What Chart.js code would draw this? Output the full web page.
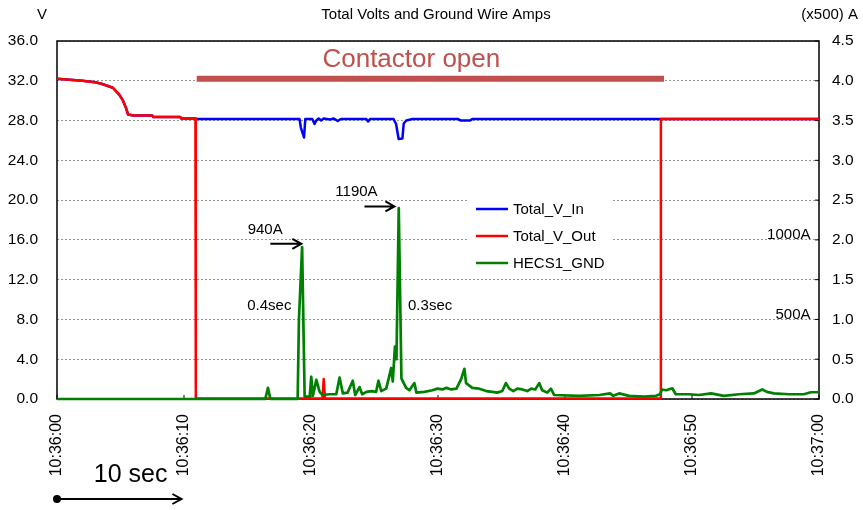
<!DOCTYPE html>
<html>
<head>
<meta charset="utf-8">
<title>Total Volts and Ground Wire Amps</title>
<script src="https://cdn.jsdelivr.net/npm/chart.js@4.4.0/dist/chart.umd.min.js"></script>
<style>
  body { margin: 0; background: #fff; }
  #wrap { width: 863px; height: 510px; position: relative; }
</style>
</head>
<body>
<div id="wrap"><canvas id="myChart"></canvas></div>
<script>
// temps en secondes depuis 10:36:00
const tickLabels = ['10:36:00', '10:36:10', '10:36:20', '10:36:30', '10:36:40', '10:36:50', '10:37:00'];

// Total_V_In (V)
const tVin = [0, 1, 2, 3, 3.5, 4.4, 4.9, 5.2, 5.45, 5.6, 6.0, 7.5, 7.6, 9.7, 9.8, 10.9, 11.0,
  19.1, 19.2, 19.45, 19.55, 20.1, 20.28, 20.42, 20.6, 20.8, 21.0, 21.5, 21.8, 22.1, 22.35,
  24.35, 24.5, 24.65, 26.5, 26.7, 26.9, 27.2, 27.3, 27.5, 28.0, 31.6, 31.8, 32.5, 32.7, 60];
const vIn = [32.2, 32.1, 32.0, 31.85, 31.7, 31.3, 30.6, 30.0, 29.2, 28.6, 28.5, 28.5, 28.35, 28.35, 28.2, 28.2, 28.15,
  28.15, 27.3, 26.3, 28.15, 28.15, 27.65, 28.0, 28.2, 28.0, 28.2, 28.1, 28.2, 27.95, 28.15,
  28.15, 27.9, 28.15, 28.15, 27.65, 26.15, 26.2, 27.7, 28.0, 28.15, 28.15, 28.0, 28.0, 28.15, 28.15];

// Total_V_Out (V)
const tVout = [0, 1, 2, 3, 3.5, 4.4, 4.9, 5.2, 5.45, 5.6, 6.0, 7.5, 7.6, 9.7, 9.8, 10.9, 10.93,
  20.9, 21.0, 21.1, 47.5, 47.55, 60];
const vOut = [32.2, 32.1, 32.0, 31.85, 31.7, 31.3, 30.6, 30.0, 29.2, 28.6, 28.5, 28.5, 28.35, 28.35, 28.2, 28.2, 0.04,
  0.04, 2.0, 0.04, 0.04, 28.15, 28.15];

// HECS1_GND (x500 A)
const tGnd = [0, 16.4, 16.61, 16.8, 18.95, 19.05, 19.3, 19.5, 19.9, 20.02, 20.15, 20.42, 20.68, 20.91,
  21.46, 21.99, 22.25, 22.51, 22.88, 23.29, 23.48, 23.82, 24.03, 24.37, 24.76, 25.13, 25.31, 25.53,
  25.92, 26.18, 26.31, 26.44, 26.61, 26.73, 26.91, 27.12, 27.49, 27.75, 28.14, 28.3, 28.93, 29.56,
  29.95, 30.35, 30.66, 31.05, 31.45, 31.82, 32.08, 32.21, 32.7, 33.25, 33.8, 34.28, 34.67, 35.06,
  35.35, 35.61, 35.93, 36.24, 36.64, 37.03, 37.34, 37.66, 37.97, 38.2, 38.6, 38.89, 39.15, 41.12,
  42.7, 43.55, 43.8, 44.26, 45.05, 46.23, 47.17, 47.48, 47.64, 47.96, 48.45, 48.72, 49.76, 50.55,
  51.5, 52.5, 53.7, 54.87, 55.53, 55.9, 56.45, 57.63, 58.8, 59.36, 60];
const aGnd = [0, 0, 0.14, 0, 0, 1.0, 1.91, 0.03, 0.03, 0.28, 0.04, 0.24, 0.09, 0.05,
  0.06, 0.06, 0.27, 0.07, 0.08, 0.23, 0.05, 0.15, 0.06, 0.09, 0.1, 0.09, 0.23, 0.1,
  0.13, 0.3, 0.39, 0.22, 0.66, 0.5, 2.40, 0.26, 0.14, 0.11, 0.2, 0.08, 0.09, 0.11,
  0.13, 0.12, 0.14, 0.12, 0.13, 0.25, 0.38, 0.2, 0.14, 0.13, 0.1, 0.09, 0.08, 0.1,
  0.2, 0.13, 0.1, 0.13, 0.12, 0.1, 0.13, 0.12, 0.2, 0.11, 0.08, 0.13, 0.05, 0.04,
  0.05, 0.07, 0.04, 0.07, 0.04, 0.03, 0.04, 0.06, 0.12, 0.11, 0.135, 0.06, 0.06, 0.05,
  0.07, 0.04, 0.06, 0.07, 0.12, 0.09, 0.07, 0.06, 0.06, 0.085, 0.085];

// barre "Contactor open"
const tContactor = [11.0, 47.8];
const vContactor = [32.2, 32.2];

const FONT = "'Liberation Sans', Arial, sans-serif";
const toXY = (xs, ys) => xs.map((x, i) => ({ x: x, y: ys[i] }));

const arrow = (ctx, x1, y1, x2, y2) => {
  ctx.beginPath();
  ctx.moveTo(x1, y1);
  ctx.lineTo(x2, y2);
  ctx.moveTo(x2 - 9, y2 - 5);
  ctx.lineTo(x2, y2);
  ctx.lineTo(x2 - 9, y2 + 5);
  ctx.stroke();
};

// cadre + légende dans la zone du graphe
const framePlugin = {
  id: 'frame',
  beforeDatasetsDraw(chart) {
    const { ctx, chartArea: a, scales } = chart;
    ctx.save();
    // légende (fond blanc)
    ctx.fillStyle = '#fff';
    ctx.fillRect(469, 192, 143, 84);
    const items = [['Total_V_In', '#0000ff'], ['Total_V_Out', '#ff0000'], ['HECS1_GND', '#008000']];
    ctx.font = '15px ' + FONT;
    ctx.textBaseline = 'middle';
    ctx.textAlign = 'left';
    items.forEach(([label, color], i) => {
      const y = 209 + i * 27;
      ctx.strokeStyle = color;
      ctx.lineWidth = 2.5;
      ctx.beginPath();
      ctx.moveTo(476, y);
      ctx.lineTo(508, y);
      ctx.stroke();
      ctx.fillStyle = '#000';
      ctx.fillText(label, 513, y + 1);
    });
    // cadre noir
    ctx.strokeStyle = '#000';
    ctx.lineWidth = 1.5;
    ctx.strokeRect(a.left, a.top, a.right - a.left, a.bottom - a.top);
    // petites graduations intérieures
    ctx.lineWidth = 1;
    scales.x.ticks.forEach(t => {
      const x = scales.x.getPixelForValue(t.value);
      ctx.beginPath(); ctx.moveTo(x, a.bottom); ctx.lineTo(x, a.bottom - 4); ctx.stroke();
    });
    scales.y1.ticks.forEach(t => {
      const y = scales.y1.getPixelForValue(t.value);
      ctx.beginPath(); ctx.moveTo(a.right, y); ctx.lineTo(a.right - 4, y); ctx.stroke();
    });
    ctx.restore();
  },
  afterDraw(chart) {
    const { ctx, scales } = chart;
    const X = v => scales.x.getPixelForValue(v);
    const YA = v => scales.y1.getPixelForValue(v);
    const YV = v => scales.y.getPixelForValue(v);
    ctx.save();
    ctx.fillStyle = '#000';
    ctx.strokeStyle = '#000';
    ctx.textBaseline = 'middle';
    ctx.font = '15px ' + FONT;
    // titres
    ctx.textAlign = 'center';
    ctx.fillText('V', 42, 15);
    ctx.fillText('Total Volts and Ground Wire Amps', 436, 15);
    ctx.textAlign = 'right';
    ctx.fillText('(x500) A', 858, 15);
    // annotations
    ctx.textAlign = 'center';
    ctx.fillText('940A', X(16.39), YA(2.12));
    ctx.fillText('1190A', X(23.58), YA(2.60));
    ctx.fillText('0.4sec', X(16.72), YA(1.17));
    ctx.fillText('0.3sec', X(29.38), YA(1.17));
    ctx.textAlign = 'right';
    ctx.fillText('1000A', X(59.33), YA(2.06));
    ctx.fillText('500A', X(59.33), YA(1.06));
    ctx.lineWidth = 2;
    arrow(ctx, X(16.8), YA(1.95), X(19.24), YA(1.95));
    arrow(ctx, X(24.21), YA(2.42), X(26.57), YA(2.42));
    // Contactor open
    ctx.textAlign = 'center';
    ctx.fillStyle = '#c0504d';
    ctx.font = '26px ' + FONT;
    ctx.fillText('Contactor open', X(27.9), YV(34.1));
    // 10 sec
    ctx.fillStyle = '#000';
    ctx.font = '25px ' + FONT;
    ctx.fillText('10 sec', X(5.8), 475);
    ctx.beginPath();
    ctx.arc(X(0), 499, 4, 0, Math.PI * 2);
    ctx.fill();
    arrow(ctx, X(0), 499, X(9.8), 499);
    ctx.restore();
  }
};

let myChart;

const setup = () => {
  const context = document.getElementById('myChart').getContext('2d');
  Chart.defaults.font.family = FONT;
  Chart.defaults.color = '#000';

  myChart = new Chart(context, {
    type: 'line',
    data: {
      datasets: [
        { label: 'HECS1_GND', data: toXY(tGnd, aGnd), yAxisID: 'y1', borderColor: '#008000', borderWidth: 2.7 },
        { label: 'Total_V_Out', data: toXY(tVout, vOut), yAxisID: 'y', borderColor: '#ff0000', borderWidth: 2.5 },
        { label: 'Total_V_In', data: toXY(tVin, vIn), yAxisID: 'y', borderColor: '#0000ff', borderWidth: 2.5 },
        { label: 'contactor', data: toXY(tContactor, vContactor), yAxisID: 'y', borderColor: '#c0504d', borderWidth: 6, borderCapStyle: 'butt' }
      ]
    },
    options: {
      responsive: true,
      maintainAspectRatio: false,
      animation: false,
      layout: { padding: { top: 41, left: 0, right: 0, bottom: 0 } },
      elements: {
        point: { radius: 0 },
        line: { tension: 0, borderJoinStyle: 'round', fill: false }
      },
      datasets: { line: { clip: 6 } },
      plugins: { legend: { display: false }, tooltip: { enabled: false } },
      scales: {
        x: {
          type: 'linear',
          min: 0,
          max: 60,
          afterFit: s => { s.height = 111; },
          grid: { display: false },
          border: { display: false },
          ticks: {
            stepSize: 10,
            autoSkip: false,
            minRotation: 90,
            maxRotation: 90,
            padding: 7,
            font: { size: 16 },
            callback: (v, i) => tickLabels[i]
          }
        },
        y: {
          position: 'left',
          min: 0,
          max: 36,
          afterFit: s => { s.width = 57; },
          grid: { color: '#999', drawTicks: false },
          border: { display: false, dash: [2, 2] },
          ticks: { stepSize: 4, padding: 19, font: { size: 15.5 }, callback: v => v.toFixed(1) }
        },
        y1: {
          position: 'right',
          min: 0,
          max: 4.5,
          afterFit: s => { s.width = 44; },
          grid: { drawOnChartArea: false, drawTicks: false },
          border: { display: false },
          ticks: { stepSize: 0.5, padding: 13, font: { size: 15.5 }, callback: v => v.toFixed(1) }
        }
      }
    },
    plugins: [framePlugin]
  });
};

window.addEventListener('DOMContentLoaded', setup);
</script>
</body>
</html>
